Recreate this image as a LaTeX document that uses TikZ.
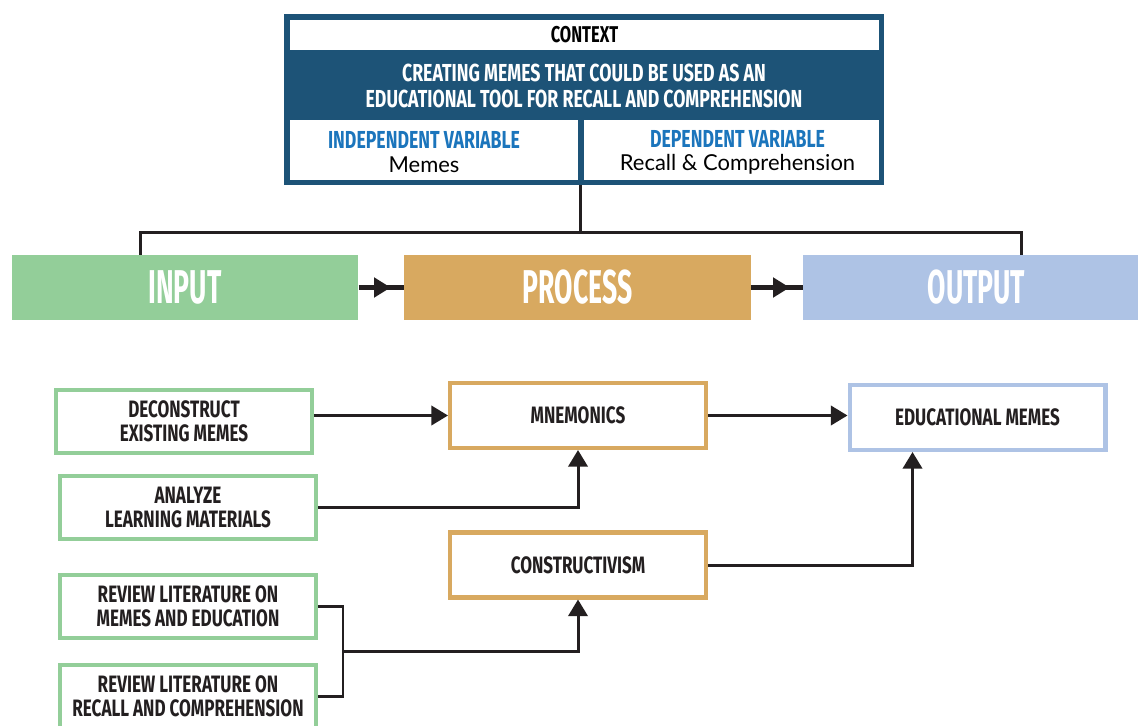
\documentclass[tikz,border=0pt]{standalone}
\usepackage{fontspec}
\setmainfont{Lato}
\newfontfamily\headfont[FakeStretch=0.72]{Fira Sans}
\newfontfamily\barfont[FakeStretch=0.56]{Fira Sans}
\usetikzlibrary{arrows.meta,positioning}

\definecolor{ctxblue}{HTML}{1D5377}
\definecolor{varblue}{HTML}{1B75BC}
\definecolor{ingreen}{HTML}{93CE99}
\definecolor{procgold}{HTML}{D8A960}
\definecolor{outblue}{HTML}{AEC3E5}
\definecolor{linedark}{HTML}{231F20}

\tikzset{
  bar/.style={rectangle,inner sep=0,minimum width=6.94cm,minimum height=1.3cm,
    text=white,font=\barfont\bfseries\fontsize{27}{27}\selectfont},
  item/.style={draw,rectangle,line width=2.3pt,fill=white,inner sep=0,
    minimum width=5.12cm,minimum height=1.26cm,align=center,text=linedark,
    font=\headfont\bfseries\fontsize{13.5}{13.5}\selectfont},
  cell/.style={rectangle,fill=white,inner sep=0,align=center},
  vartext/.style={align=center,inner sep=0,font=\fontsize{12.5}{12.5}\selectfont},
  link/.style={draw=linedark,line width=1.7pt},
  arr/.style={link,-{Triangle[length=9.5pt,width=11pt]}},
}

\begin{document}
\begin{tikzpicture}[x=0.02cm,y=-0.02cm]
\useasboundingbox (0,0) rectangle (1138,726);

% context block
\node[rectangle,fill=ctxblue,inner sep=0,minimum width=12cm,minimum height=3.42cm] (ctx) at (584,99.5) {};
\node[cell,minimum width=11.78cm,minimum height=0.6cm,font=\headfont\bfseries\fontsize{13}{13}\selectfont] (ctx-head) at (584.5,35) {CONTEXT};
\node[align=center,text=white,font=\headfont\bfseries\fontsize{14}{14}\selectfont] (ctx-main) at (584,86)
  {CREATING MEMES THAT COULD BE USED AS AN\\[1pt]EDUCATIONAL TOOL FOR RECALL AND COMPREHENSION};
\node[cell,minimum width=5.76cm,minimum height=1.2cm] (indep) at (434,150) {};
\node[cell,minimum width=5.9cm,minimum height=1.2cm] (dep) at (731.5,150) {};
\node[vartext] (indep-text) at ([xshift=-0.2cm,yshift=-0.04cm]indep)
  {\textcolor{varblue}{\headfont\bfseries\fontsize{14}{14}\selectfont INDEPENDENT VARIABLE}\\[0.7pt]Memes};
\node[vartext] (dep-text) at ([xshift=0.12cm,yshift=-0.04cm]dep)
  {\textcolor{varblue}{\headfont\bfseries\fontsize{14}{14}\selectfont DEPENDENT VARIABLE}\\[0.7pt]Recall \& Comprehension};

% input / process / output bars
\node[bar,fill=ingreen] (input) at (185,287.5) {INPUT};
\node[bar,fill=procgold] (process) at (577.5,287.5) {PROCESS};
\node[bar,fill=outblue] (output) at (976.5,287.5) {OUTPUT};

\draw[link] ([xshift=-0.08cm]ctx.south) -- ++(0,47) coordinate (hub);
\draw[link] ([xshift=-0.9cm]input.north) |- (hub) -| ([xshift=0.9cm]output.north);

\draw[link,line width=2.3pt] (input) -- (process);
\draw[arr,line width=2.3pt,shorten >=0.26cm] (input.east) -- (process.west);
\draw[link,line width=2.3pt] (process) -- (output);
\draw[arr,line width=2.3pt,shorten >=0.26cm] (process.east) -- (output.west);

% lower flow
\node[item,draw=ingreen] (decon) at (184,421.5) {DECONSTRUCT\\EXISTING MEMES};
\node[item,draw=ingreen] (analyze) at (188,507.5) {ANALYZE\\LEARNING MATERIALS};
\node[item,draw=ingreen] (rev-memes) at (188,606.5) {REVIEW LITERATURE ON\\MEMES AND EDUCATION};
\node[item,draw=ingreen] (rev-recall) at (188,696.5) {REVIEW LITERATURE ON\\RECALL AND COMPREHENSION};

\node[item,draw=procgold,minimum height=1.3cm] (mnem) at (578,415.5) {MNEMONICS};
\node[item,draw=procgold,minimum height=1.3cm] (constr) at (578,565) {CONSTRUCTIVISM};
\node[item,draw=outblue,minimum height=1.3cm] (edu) at (977.5,417.5) {EDUCATIONAL MEMES};

\draw[arr] (mnem.west -| decon.east) -- (mnem.west);
\draw[arr] (analyze.east) -| (mnem.south);
\draw[arr] (mnem.east) -- (mnem.east -| edu.west);
\draw[arr] (constr.east) -| ([xshift=-1.3cm]edu.south);

\path (rev-memes.east) -- (rev-recall.east) coordinate[pos=0.5] (mid);
\draw[link] (rev-memes.east) -| ([xshift=0.5cm]mid) |- (rev-recall.east);
\draw[arr] ([xshift=0.5cm]mid) -| (constr.south);
\end{tikzpicture}
\end{document}
